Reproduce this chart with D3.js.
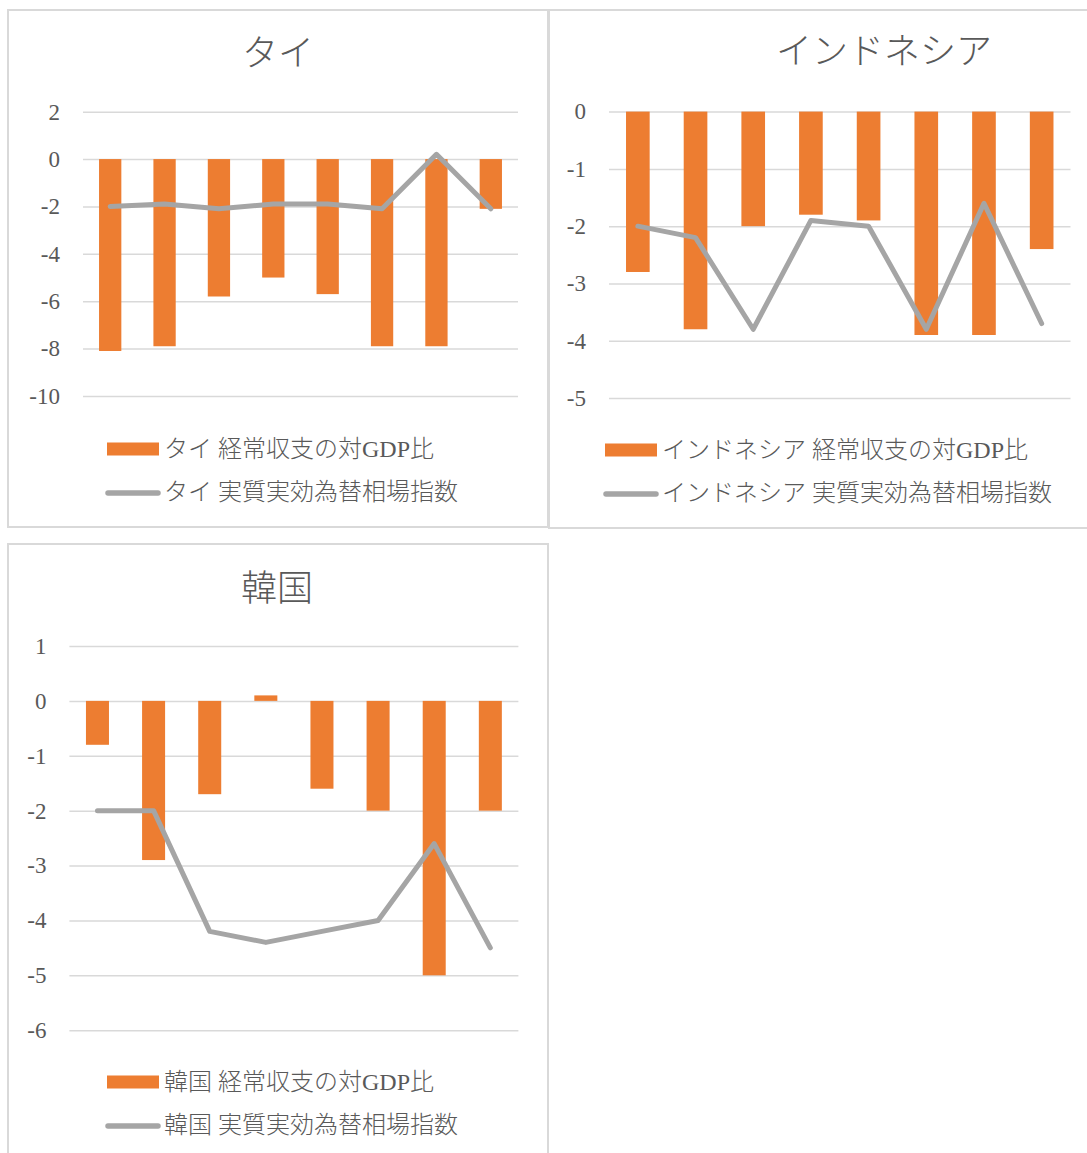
<!DOCTYPE html>
<html>
<head>
<meta charset="utf-8">
<script src="https://cdn.jsdelivr.net/npm/d3@7"></script>
<style>
  html, body { margin: 0; padding: 0; background: #ffffff; }
  svg { display: block; }
  text { fill: #595959; }
  .num { font-family: "Liberation Serif", "DejaVu Serif", serif; }
  .jp { font-family: "Liberation Serif", "Noto Sans CJK JP", serif; }
</style>
</head>
<body>
<svg id="chart" width="1087" height="1153"></svg>
<script>
// ---- data ----
const categories = ["1", "2", "3", "4", "5", "6", "7", "8"];

const thaiTitle = "タイ";
const thaiCurrentAccount = [-8.1, -7.9, -5.8, -5.0, -5.7, -7.9, -7.9, -2.1];
const thaiREER = [-2.0, -1.9, -2.1, -1.9, -1.9, -2.1, 0.2, -2.1];
const thaiTicks = [2, 0, -2, -4, -6, -8, -10];
const thaiLegend = ["タイ 経常収支の対GDP比", "タイ 実質実効為替相場指数"];

const indoTitle = "インドネシア";
const indoCurrentAccount = [-2.8, -3.8, -2.0, -1.8, -1.9, -3.9, -3.9, -2.4];
const indoREER = [-2.0, -2.2, -3.8, -1.9, -2.0, -3.8, -1.6, -3.7];
const indoTicks = [0, -1, -2, -3, -4, -5];
const indoLegend = ["インドネシア 経常収支の対GDP比", "インドネシア 実質実効為替相場指数"];

const korTitle = "韓国";
const korCurrentAccount = [-0.8, -2.9, -1.7, 0.1, -1.6, -2.0, -5.0, -2.0];
const korREER = [-2.0, -2.0, -4.2, -4.4, -4.2, -4.0, -2.6, -4.5];
const korTicks = [1, 0, -1, -2, -3, -4, -5, -6];
const korLegend = ["韓国 経常収支の対GDP比", "韓国 実質実効為替相場指数"];

// ---- styles ----
const BAR = "#ed7d31", LINE = "#a5a5a5", GRID = "#d9d9d9", FRAME = "#d9d9d9";

const svg = d3.select("#chart");

const panels = [
  { title: thaiTitle, ca: thaiCurrentAccount, reer: thaiREER, ticks: thaiTicks, legend: thaiLegend,
    frame: [8, 10, 540, 517], px: [83, 518], py: [396, 111.7],
    titleX: 278, titleY: 54, legX: 107, legY1: 449, legY2: 493 },
  { title: indoTitle, ca: indoCurrentAccount, reer: indoREER, ticks: indoTicks, legend: indoLegend,
    frame: [549, 10, 700, 518], px: [609, 1070.5], py: [398, 111.6],
    titleX: 884, titleY: 52, legX: 605, legY1: 450, legY2: 494 },
  { title: korTitle, ca: korCurrentAccount, reer: korREER, ticks: korTicks, legend: korLegend,
    frame: [8, 544, 540, 700], px: [69.4, 518.4], py: [1030.2, 646],
    titleX: 277, titleY: 589, legX: 107, legY1: 1082, legY2: 1126 }
];

panels.forEach(p => {
  const g = svg.append("g");
  g.append("rect")
    .attr("x", p.frame[0]).attr("y", p.frame[1])
    .attr("width", p.frame[2]).attr("height", p.frame[3])
    .attr("fill", "#fff").attr("stroke", FRAME).attr("stroke-width", 2);

  const x = d3.scaleBand().domain(categories).range(p.px).padding(0);
  const y = d3.scaleLinear().domain(d3.extent(p.ticks)).range(p.py);

  // gridlines + tick labels via axis
  const axis = d3.axisLeft(y).tickValues(p.ticks)
    .tickSize(-(p.px[1] - p.px[0])).tickPadding(23)
    .tickFormat(d3.format("d"));
  const ag = g.append("g").attr("transform", `translate(${p.px[0]},0)`).call(axis);
  ag.select(".domain").remove();
  ag.selectAll(".tick line").attr("stroke", GRID).attr("stroke-width", 1.5);
  ag.selectAll(".tick text")
    .attr("class", "num")
    .style("font-size", "23px")
    .style("fill", "#595959")
    .text(d => d < 0 ? "-" + Math.abs(d) : String(d));

  // bars
  const bw = x.bandwidth() * 0.41;
  g.append("g").selectAll("rect").data(p.ca).join("rect")
    .attr("x", (d, i) => x(categories[i]) + x.bandwidth() / 2 - bw / 2)
    .attr("y", d => Math.min(y(0), y(d)))
    .attr("width", bw)
    .attr("height", d => Math.abs(y(d) - y(0)))
    .attr("fill", BAR);

  // line
  const line = d3.line()
    .x((d, i) => x(categories[i]) + x.bandwidth() / 2)
    .y(d => y(d));
  g.append("path").datum(p.reer)
    .attr("d", line)
    .attr("fill", "none").attr("stroke", LINE)
    .attr("stroke-width", 5).attr("stroke-linejoin", "round").attr("stroke-linecap", "round");

  // title
  g.append("text").attr("class", "jp")
    .attr("x", p.titleX).attr("y", p.titleY)
    .attr("text-anchor", "middle").attr("dominant-baseline", "central")
    .style("font-size", "36px").style("font-weight", 300)
    .text(p.title);

  // legend
  g.append("rect").attr("x", p.legX).attr("y", p.legY1 - 6.5)
    .attr("width", 52).attr("height", 13).attr("fill", BAR);
  g.append("line").attr("x1", p.legX + 1).attr("x2", p.legX + 51)
    .attr("y1", p.legY2).attr("y2", p.legY2)
    .attr("stroke", LINE).attr("stroke-width", 5.5).attr("stroke-linecap", "round");
  g.append("text").attr("class", "jp")
    .attr("x", p.legX + 57).attr("y", p.legY1)
    .attr("dominant-baseline", "central")
    .style("font-size", "24px").style("font-weight", 300)
    .text(p.legend[0]);
  g.append("text").attr("class", "jp")
    .attr("x", p.legX + 57).attr("y", p.legY2 - 1)
    .attr("dominant-baseline", "central")
    .style("font-size", "24px").style("font-weight", 300)
    .text(p.legend[1]);
});
</script>
</body>
</html>
